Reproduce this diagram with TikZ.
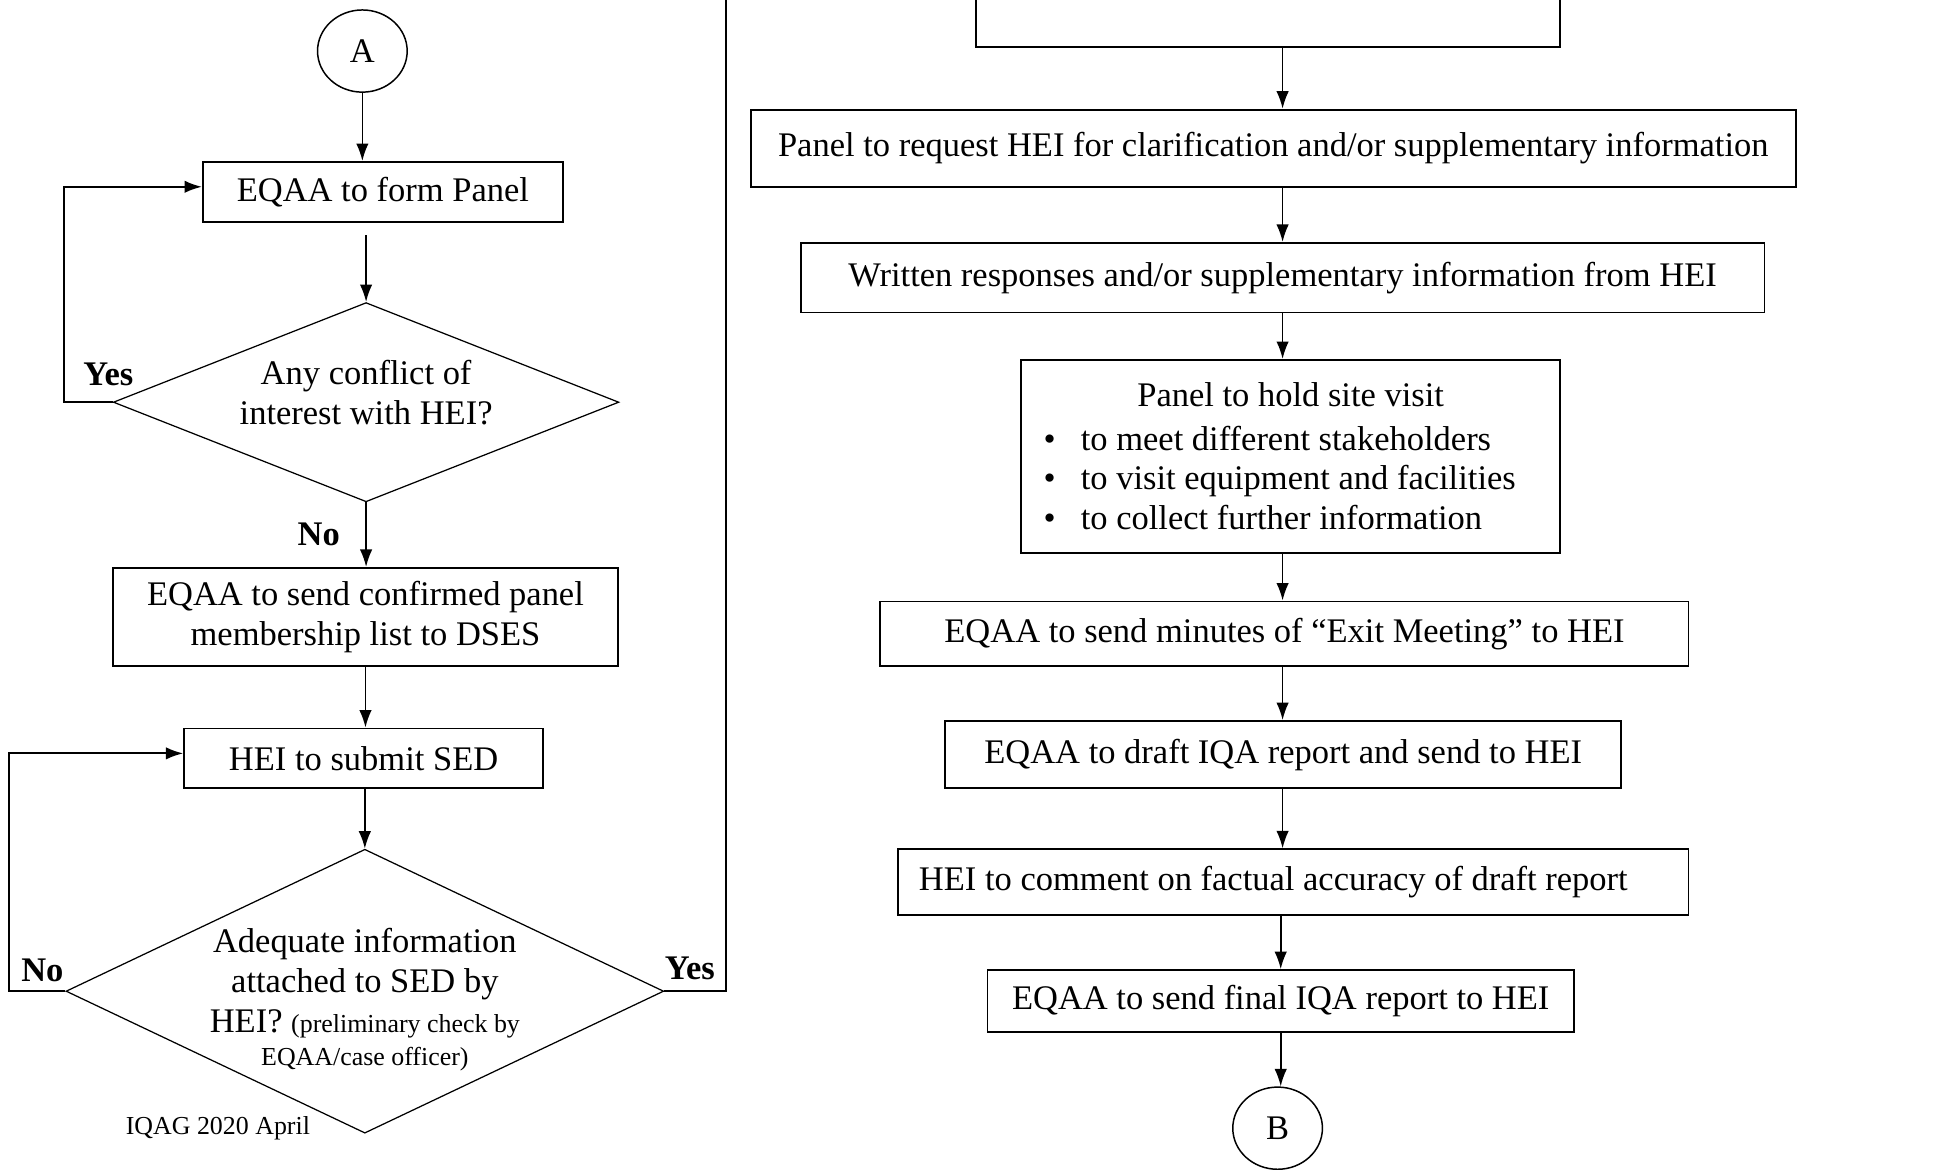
\documentclass[tikz,border=0pt]{standalone}
\usepackage{fontspec}
\setmainfont{Liberation Serif}
\usetikzlibrary{shapes.geometric,arrows.meta}
\begin{document}
\begin{tikzpicture}[x=1pt,y=-1pt,font=\fontsize{27.7}{32}\selectfont]

\tikzset{>={Latex[length=14pt,width=10pt]}}
\tikzset{procbox/.style={draw,line width=1.5pt,inner sep=0pt,align=center}}
\tikzset{decision/.style={draw,diamond,line width=1pt,inner sep=-40pt,align=center}}
\tikzset{terminal/.style={draw,ellipse,line width=1.2pt,inner sep=0pt,minimum width=72pt,minimum height=66pt}}
\tikzset{flow/.style={->,line width=1.3pt}}
\tikzset{loopline/.style={->,line width=1.8pt}}
\tikzset{answer/.style={font=\fontsize{27.7}{32}\selectfont\bfseries}}
\def\smalltext{\fontsize{20.8}{24}\selectfont}

\useasboundingbox (0,0) rectangle (1570,939);
\clip (0,0) rectangle (1570,939);

% left column
\draw (291,41) node[terminal](A) {A};
\draw (307.5,154) node[procbox,minimum width=289pt,minimum height=48pt](panel) {EQAA to form Panel};
\draw (294,323) node[decision,aspect=2.54,text depth=16pt,minimum width=406pt,minimum height=160pt](conflict) {Any conflict of\\ interest with HEI?};
\draw (293.5,495.5) node[procbox,minimum width=405pt,minimum height=79pt](confirm) {EQAA to send confirmed panel\\ membership list to DSES};
\draw (292,609) node[procbox,minimum width=288pt,minimum height=48pt](submit) {HEI to submit SED};
\draw (293,796) node[decision,aspect=2.1,minimum width=480pt,minimum height=228pt](adequate) {\rule{0pt}{33pt}Adequate information\\ attached to SED by\\ HEI? {\smalltext (preliminary check by}\\[-5pt] {\smalltext EQAA/case officer)}};

\draw (87,301) node[answer](yesA) {Yes};
\draw (256,429) node[answer](noA) {No};
\draw (34,779) node[answer](noB) {No};
\draw (554,778) node[answer](yesB) {Yes};
\draw (175,906) node[font=\smalltext](stamp) {IQAG 2020 April};

\draw[flow] (A) -- (A |- panel.north);
\draw[flow,shorten <=10pt] (conflict.north |- panel.south) -- (conflict.north);
\draw[loopline] (conflict.west) -- ++(-39,0) |- ([yshift=4pt]panel.west);
\draw[flow] (conflict.south) -- (conflict.south |- confirm.north);
\draw[flow] (confirm.south) -- (confirm.south |- submit.north);
\draw[flow] (submit.south -| adequate) -- (adequate.north);
\draw[loopline] (adequate.west) -- ++(-45,0) |- ([yshift=4pt]submit.west);
\coordinate (upper) at (583,-5);
\draw[line width=1.3pt] (adequate.east) -| (upper);

% right column
\draw (1018.5,-12) node[procbox,minimum width=469pt,minimum height=100pt](review) {};
\draw (1022.5,119) node[procbox,minimum width=839pt,minimum height=62pt](request) {Panel to request HEI for clarification and/or supplementary information};
\draw (1030,223) node[procbox,minimum width=774pt,minimum height=56pt](written) {Written responses and/or supplementary information from HEI};
\draw (1036.5,366.5) node[procbox,minimum width=433pt,minimum height=155pt,align=left](visit)
    {\makebox[397pt]{Panel to hold site visit}\\[3pt]
     \makebox[397pt][l]{\makebox[30pt][l]{\textbullet}to meet different stakeholders}\\
     \makebox[397pt][l]{\makebox[30pt][l]{\textbullet}to visit equipment and facilities}\\
     \makebox[397pt][l]{\makebox[30pt][l]{\textbullet}to collect further information}};
\draw (1031.5,509) node[procbox,minimum width=649pt,minimum height=52pt](exit) {EQAA to send minutes of “Exit Meeting” to HEI};
\draw (1030.5,606) node[procbox,minimum width=543pt,minimum height=54pt](draft) {EQAA to draft IQA report and send to HEI};
\draw (1038.5,708.5) node[procbox,minimum width=635pt,minimum height=53pt](comment) {\makebox[601pt][l]{HEI to comment on factual accuracy of draft report}};
\draw (1028.5,804) node[procbox,minimum width=471pt,minimum height=50pt](final) {EQAA to send final IQA report to HEI};
\draw (1026,906) node[terminal](B) {B};

\draw[flow] (review.south -| written) -- (request.north -| written);
\draw[flow] (request.south -| written) -- (written.north);
\draw[flow] (written.south) -- (visit.north -| written);
\draw[flow] (visit.south -| written) -- (exit.north -| written);
\draw[flow] (exit.south -| written) -- (draft.north -| written);
\draw[flow] (draft.south -| written) -- (comment.north -| written);
\draw[flow] (comment.south -| final) -- (final.north);
\draw[flow] (final.south) -- (final.south |- B.north);

\end{tikzpicture}
\end{document}
